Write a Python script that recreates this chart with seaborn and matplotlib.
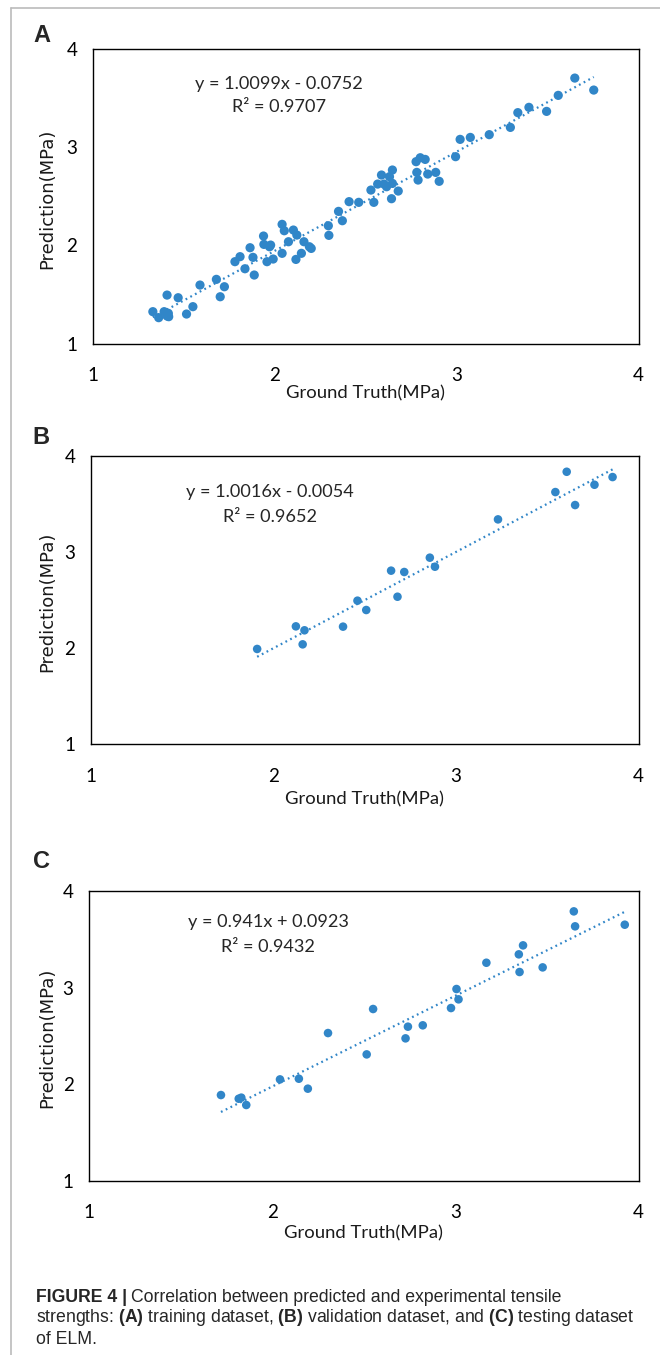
import numpy as np
import pandas as pd
import matplotlib
matplotlib.use("Agg")
import matplotlib.pyplot as plt
import seaborn as sns
from matplotlib.lines import Line2D

# ---------------- data ----------------
train_x = [1.331, 1.363, 1.393, 1.409, 1.416, 1.409, 1.470, 1.516, 1.551, 1.590,
           1.680, 1.701, 1.724, 1.782, 1.810, 1.837, 1.865, 1.881, 1.888, 1.939,
           1.941, 1.958, 1.972, 1.978, 1.992, 2.041, 2.053, 2.041, 2.076, 2.103,
           2.122, 2.117, 2.147, 2.161, 2.191, 2.201, 2.295, 2.298, 2.351, 2.372,
           2.409, 2.462, 2.529, 2.545, 2.566, 2.587, 2.601, 2.615, 2.631, 2.647,
           2.647, 2.642, 2.679, 2.777, 2.800, 2.827, 2.781, 2.788, 2.841, 2.885,
           2.904, 2.994, 3.019, 3.075, 3.179, 3.295, 3.336, 3.397, 3.494, 3.558,
           3.649, 3.753, 1.418]
train_y = [1.326, 1.265, 1.326, 1.282, 1.309, 1.495, 1.468, 1.302, 1.377, 1.597,
           1.655, 1.478, 1.580, 1.835, 1.886, 1.763, 1.977, 1.879, 1.699, 2.096,
           2.011, 1.835, 1.987, 2.004, 1.862, 2.215, 2.150, 1.920, 2.038, 2.157,
           2.106, 1.858, 1.920, 2.038, 1.987, 1.970, 2.201, 2.103, 2.347, 2.252,
           2.446, 2.439, 2.564, 2.439, 2.625, 2.717, 2.625, 2.598, 2.700, 2.768,
           2.632, 2.476, 2.554, 2.853, 2.893, 2.876, 2.744, 2.666, 2.727, 2.744,
           2.653, 2.904, 3.080, 3.100, 3.128, 3.202, 3.352, 3.406, 3.365, 3.528,
           3.704, 3.582, 1.275]

val_x = [1.912, 2.124, 2.171, 2.161, 2.382, 2.461, 2.509, 2.645, 2.717, 2.680,
         2.857, 2.885, 3.230, 3.544, 3.606, 3.652, 3.758, 3.857]
val_y = [1.991, 2.226, 2.185, 2.039, 2.223, 2.493, 2.396, 2.805, 2.791, 2.534,
         2.940, 2.846, 3.338, 3.622, 3.833, 3.487, 3.698, 3.778]

test_x = [1.721, 1.818, 1.832, 1.859, 2.043, 2.146, 2.195, 2.305, 2.516, 2.551,
          2.728, 2.741, 2.822, 2.976, 3.006, 3.017, 3.169, 3.346, 3.369, 3.350,
          3.476, 3.646, 3.653, 3.924]
test_y = [1.887, 1.849, 1.860, 1.784, 2.049, 2.056, 1.953, 2.529, 2.308, 2.778,
          2.474, 2.595, 2.609, 2.788, 2.985, 2.878, 3.257, 3.344, 3.437, 3.161,
          3.209, 3.789, 3.634, 3.651]

panel_letters = ["A", "B", "C"]
slopes = [1.0099, 1.0016, 0.941]
intercepts = [-0.0752, -0.0054, 0.0923]
eq_texts = ["y = 1.0099x - 0.0752", "y = 1.0016x - 0.0054", "y = 0.941x + 0.0923"]
r2_texts = ["R² = 0.9707", "R² = 0.9652", "R² = 0.9432"]
ticks = [1, 2, 3, 4]
tick_labels = ["1", "2", "3", "4"]
x_label = "Ground Truth(MPa)"
y_label = "Prediction(MPa)"
caption_lines = [
    "Correlation between predicted and experimental tensile",
    r"strengths: $\mathbf{(A)}$ training dataset, $\mathbf{(B)}$ validation dataset, and $\mathbf{(C)}$ testing dataset",
    "of ELM.",
]

# ---------------- style ----------------
sns.set_theme(style="white")
plt.rcParams["font.family"] = ["Lato", "DejaVu Sans"]
plt.rcParams["mathtext.fontset"] = "custom"
plt.rcParams["mathtext.rm"] = "Lato"
plt.rcParams["mathtext.bf"] = "Liberation Sans:bold"

W, H = 660, 1355
fig = plt.figure(figsize=(W / 100, H / 100), dpi=100)
blue = "#3186C8"

def fx(px):
    return px / W

def fy(py):
    return 1 - py / H

# axes boxes in pixels: left, right, top, bottom
boxes = [(92.6, 638.7, 49.0, 343.7),
         (90.5, 638.7, 455.7, 744.3),
         (88.8, 638.7, 891.0, 1180.7)]
letter_pos = [(42, 36), (41, 437), (41, 861)]
eq_pos = [(279, 84, 107), (270, 492, 517), (268, 922, 947)]
xlab_y = [393, 799, 1233]
ylab_x = [47, 47, 47]
msize = [44, 38, 38]

datasets = [(train_x, train_y), (val_x, val_y), (test_x, test_y)]

for i, (xs, ys) in enumerate(datasets):
    l, r, t, b = boxes[i]
    ax = fig.add_axes([fx(l), fy(b), fx(r) - fx(l), fy(t) - fy(b)])
    df = pd.DataFrame({"x": xs, "y": ys})
    sns.scatterplot(data=df, x="x", y="y", ax=ax, color=blue, s=msize[i],
                    edgecolor="none", linewidth=0, zorder=3)
    lx = np.array([min(xs), max(xs)])
    ly = slopes[i] * lx + intercepts[i]
    sns.lineplot(x=lx, y=ly, ax=ax, color=blue, linewidth=1.6,
                 linestyle=(0, (0.8, 1.6)), zorder=2)
    ax.set_xlim(1, 4)
    ax.set_ylim(1, 4)
    ax.set_xticks(ticks)
    ax.set_xticklabels(tick_labels)
    ax.set_yticks(ticks)
    ax.set_yticklabels(tick_labels)
    ax.tick_params(axis="both", length=0, labelsize=13.5, colors="black")
    ax.tick_params(axis="x", pad=17)
    ax.tick_params(axis="y", pad=11)
    ax.set_xlabel("")
    ax.set_ylabel("")
    for sp in ax.spines.values():
        sp.set_visible(True)
        sp.set_color("black")
        sp.set_linewidth(1.0)
    ax.grid(False)

    fig.text(fx((l + r) / 2), fy(xlab_y[i]), x_label, ha="center", va="center",
             fontsize=13.3, color="#1a1a1a")
    fig.text(fx(ylab_x[i]), fy((t + b) / 2 + 2), y_label, ha="center", va="center",
             rotation=90, fontsize=13, color="#1a1a1a", family=["DejaVu Sans"])
    fig.text(fx(letter_pos[i][0]), fy(letter_pos[i][1]), panel_letters[i],
             ha="center", va="center", fontsize=17, fontweight="bold",
             family=["Liberation Sans"])
    ex, ey1, ey2 = eq_pos[i]
    fig.text(fx(ex), fy(ey1), eq_texts[i], ha="center", va="center", fontsize=13.1)
    fig.text(fx(ex), fy(ey2), r2_texts[i], ha="center", va="center", fontsize=13.1)

# page frame lines
fig.add_artist(Line2D([fx(11), fx(11)], [0, fy(8)], color="#BBBBBB", linewidth=1.2))
fig.add_artist(Line2D([fx(11), 1], [fy(8), fy(8)], color="#BBBBBB", linewidth=1.2))

# caption
cap_font = ["Liberation Sans", "DejaVu Sans"]
cap_size = 12.7
cap_y = [1297, 1318, 1339]
t1 = fig.text(fx(36), fy(cap_y[0]), "FIGURE 4 |", ha="left", va="center",
              fontsize=cap_size, fontweight="bold", family=cap_font)
fig.canvas.draw()
bb = t1.get_window_extent()
fig.text(bb.x1 / W + 4 / W, fy(cap_y[0]), caption_lines[0],
         ha="left", va="center", fontsize=cap_size, family=cap_font)
fig.text(fx(36), fy(cap_y[1]), caption_lines[1],
         ha="left", va="center", fontsize=cap_size, family=cap_font)
fig.text(fx(36), fy(cap_y[2]), caption_lines[2], ha="left", va="center",
         fontsize=cap_size, family=cap_font)

fig.savefig("out.png", dpi=100)
